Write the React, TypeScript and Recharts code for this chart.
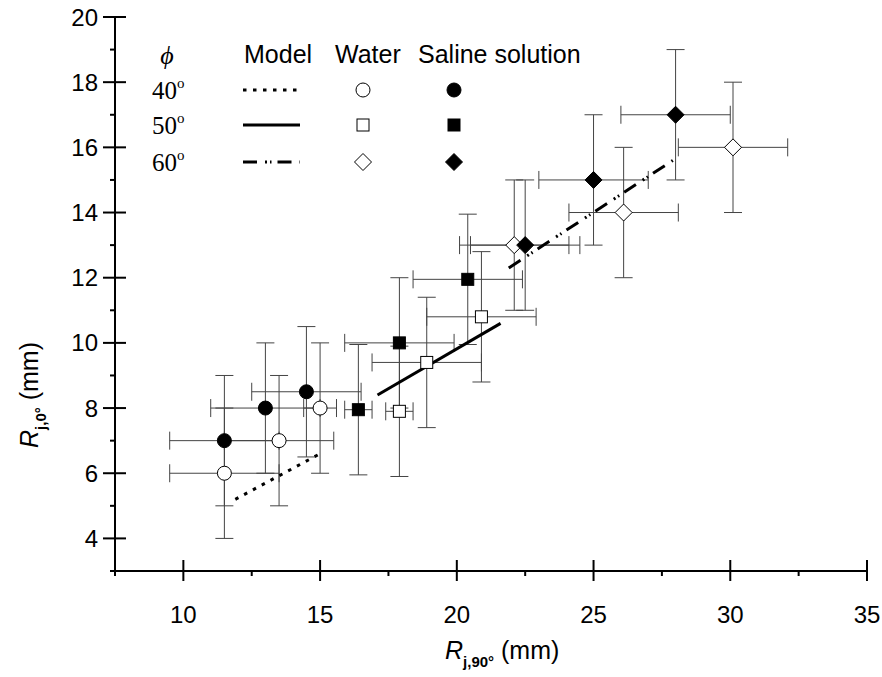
import React from 'react';
import { ErrorBar, Scatter, ScatterChart, XAxis, YAxis } from 'recharts';

// measured points: x = R_j,90°, y = R_j,0° (mm), ex/ey = error half-widths
const water40 = [
  { x: 11.5, y: 6.0, ex: 2, ey: 2 },
  { x: 13.5, y: 7.0, ex: 2, ey: 2 },
  { x: 15.0, y: 8.0, ex: 0.6, ey: 2 },
];
const saline40 = [
  { x: 11.5, y: 7.0, ex: 2, ey: 2 },
  { x: 13.0, y: 8.0, ex: 2, ey: 2 },
  { x: 14.5, y: 8.5, ex: 2, ey: 2 },
];
const water50 = [
  { x: 17.9, y: 7.9, ex: 0.5, ey: 2 },
  { x: 18.9, y: 9.4, ex: 2, ey: 2 },
  { x: 20.9, y: 10.8, ex: 2, ey: 2 },
];
const saline50 = [
  { x: 16.4, y: 7.95, ex: 0.5, ey: 2 },
  { x: 17.9, y: 10.0, ex: 2, ey: 2 },
  { x: 20.4, y: 11.95, ex: 2, ey: 2 },
];
const water60 = [
  { x: 22.1, y: 13.0, ex: 2, ey: 2 },
  { x: 26.1, y: 14.0, ex: 2, ey: 2 },
  { x: 30.1, y: 16.0, ex: 2, ey: 2 },
];
const saline60 = [
  { x: 22.5, y: 13.0, ex: 2, ey: 2 },
  { x: 25.0, y: 15.0, ex: 2, ey: 2 },
  { x: 28.0, y: 17.0, ex: 2, ey: 2 },
];

// model predictions
const model40 = [{ x: 11.9, y: 5.2 }, { x: 15.0, y: 6.6 }];
const model50 = [{ x: 17.1, y: 8.4 }, { x: 21.6, y: 10.6 }];
const model60 = [{ x: 21.9, y: 12.3 }, { x: 27.9, y: 15.6 }];

const xMajor = [10, 15, 20, 25, 30, 35];
const xMinor = [7.5, 12.5, 17.5, 22.5, 27.5, 32.5];
const yMajor = [4, 6, 8, 10, 12, 14, 16, 18, 20];
const yMinor = [3, 5, 7, 9, 11, 13, 15, 17, 19];

const legendRows = ['40', '50', '60'];

const SANS = '"Liberation Sans", Arial, sans-serif';
const SERIF = '"Liberation Serif", "Times New Roman", serif';
const BAR = '#444';

const xTicks = [...xMajor, ...xMinor].sort((a, b) => a - b);
const yTicks = [...yMajor, ...yMinor].sort((a, b) => a - b);

function BottomTick(props: any) {
  const { x, y, payload } = props;
  const major = xMajor.includes(payload.value);
  return (
    <g>
      <line x1={x} x2={x} y1={major ? y - 11 : y} y2={major ? y + 10 : y + 5} stroke="#000" strokeWidth={2} />
      {major && (
        <text x={x} y={y + 52} textAnchor="middle" fontFamily={SANS} fontSize={24} fill="#000">
          {payload.value}
        </text>
      )}
    </g>
  );
}

function LeftTick(props: any) {
  const { x, y, payload } = props;
  const major = yMajor.includes(payload.value);
  return (
    <g>
      <line y1={y} y2={y} x1={major ? x - 12 : x - 5} x2={major ? x + 11 : x} stroke="#000" strokeWidth={2} />
      {major && (
        <text x={x - 17} y={y + 8.5} textAnchor="end" fontFamily={SANS} fontSize={24} fill="#000">
          {payload.value}
        </text>
      )}
    </g>
  );
}

function TopTick(props: any) {
  const { x, y, payload } = props;
  const major = xMajor.includes(payload.value);
  return <line x1={x} x2={x} y1={y} y2={y + (major ? 10 : 5)} stroke="#000" strokeWidth={2} />;
}

function RightTick(props: any) {
  const { x, y, payload } = props;
  const major = yMajor.includes(payload.value);
  return <line y1={y} y2={y} x1={x} x2={x - (major ? 11 : 5)} stroke="#000" strokeWidth={2} />;
}

const XTitle = () => (
  <text x={445} y={659} fontFamily={SANS} fontSize={25} fill="#000">
    <tspan fontStyle="italic">R</tspan>
    <tspan fontSize={15} fontWeight="bold" dy={8}>j,90°</tspan>
    <tspan dy={-8}> (mm)</tspan>
  </text>
);

const YTitle = () => (
  <text transform="translate(38, 448) rotate(-90)" x={0} y={0} fontFamily={SANS} fontSize={25} fill="#000">
    <tspan fontStyle="italic">R</tspan>
    <tspan fontSize={15} fontWeight="bold" dy={8}>j,0°</tspan>
    <tspan dy={-8}> (mm)</tspan>
  </text>
);

const circle = (fill: string) => (p: any) =>
  <circle cx={p.cx} cy={p.cy} r={7} fill={fill} stroke="#000" strokeWidth={1} />;
const square = (fill: string) => (p: any) =>
  <rect x={p.cx - 6} y={p.cy - 6} width={12} height={12} fill={fill} stroke="#000" strokeWidth={1} />;
const diamond = (fill: string) => (p: any) =>
  <polygon
    points={`${p.cx},${p.cy - 8.5} ${p.cx + 8.5},${p.cy} ${p.cx},${p.cy + 8.5} ${p.cx - 8.5},${p.cy}`}
    fill={fill}
    stroke="#000"
    strokeWidth={1}
  />;
const noShape = () => <g />;

const lineStyles = [
  { strokeDasharray: '3.5 6.5', strokeWidth: 3 },
  { strokeDasharray: undefined, strokeWidth: 3 },
  { strokeDasharray: '14 8 2 3 1.5 6', strokeWidth: 3 },
];
const waterShapes = [circle('#fff'), square('#fff'), diamond('#fff')];
const salineShapes = [circle('#000'), square('#000'), diamond('#000')];

function LegendBox() {
  const rowsY = [90, 125, 162];
  return (
    <svg width={882} height={677} style={{ position: 'absolute', left: 0, top: 0, pointerEvents: 'none' }}>
      <text x={167} y={64} textAnchor="middle" fontFamily={SERIF} fontStyle="italic" fontSize={26}>ϕ</text>
      <text x={244} y={63} fontFamily={SANS} fontSize={25}>Model</text>
      <text x={335} y={63} fontFamily={SANS} fontSize={25}>Water</text>
      <text x={418} y={63} fontFamily={SANS} fontSize={25}>Saline solution</text>
      {legendRows.map((label, i) => {
        const cy = rowsY[i];
        const W = waterShapes[i];
        const S = salineShapes[i];
        return (
          <g key={label}>
            <text x={152} y={cy + 9} fontFamily={SERIF} fontSize={25}>
              {label}
              <tspan fontSize={15} dy={-11}>o</tspan>
            </text>
            <line x1={243} x2={300} y1={cy} y2={cy} stroke="#000" {...lineStyles[i]} />
            <W cx={363} cy={cy} />
            <S cx={454} cy={cy} />
          </g>
        );
      })}
    </svg>
  );
}

export default function App() {
  const series = [
    { water: water40, saline: saline40 },
    { water: water50, saline: saline50 },
    { water: water60, saline: saline60 },
  ];
  const models = [model40, model50, model60];
  return (
    <div style={{ position: 'absolute', left: 0, top: 0, width: 882, height: 677, background: '#fff' }}>
      <ScatterChart width={882} height={677} margin={{ top: 17, right: 15, bottom: 0, left: 0 }}>
        <XAxis
          xAxisId="b"
          dataKey="x"
          type="number"
          domain={[7.5, 35]}
          allowDataOverflow
          ticks={xTicks}
          interval={0}
          height={106}
          tickSize={0}
          tickMargin={0}
          tickLine={false}
          axisLine={{ stroke: '#000', strokeWidth: 2 }}
          tick={<BottomTick />}
          label={<XTitle />}
        />
        <XAxis
          xAxisId="t"
          orientation="top"
          type="number"
          domain={[7.5, 35]}
          allowDataOverflow
          ticks={xTicks}
          interval={0}
          height={0}
          tickSize={0}
          tickMargin={0}
          tickLine={false}
          axisLine={{ stroke: '#000', strokeWidth: 2 }}
          tick={<TopTick />}
        />
        <YAxis
          yAxisId="l"
          dataKey="y"
          type="number"
          domain={[3, 20]}
          allowDataOverflow
          ticks={yTicks}
          interval={0}
          width={115}
          tickSize={0}
          tickMargin={0}
          tickLine={false}
          axisLine={{ stroke: '#000', strokeWidth: 2 }}
          tick={<LeftTick />}
          label={<YTitle />}
        />
        <YAxis
          yAxisId="r"
          orientation="right"
          type="number"
          domain={[3, 20]}
          allowDataOverflow
          ticks={yTicks}
          interval={0}
          width={0}
          tickSize={0}
          tickMargin={0}
          tickLine={false}
          axisLine={{ stroke: '#000', strokeWidth: 2 }}
          tick={<RightTick />}
        />
        {models.map((m, i) => (
          <Scatter
            key={`m${i}`}
            xAxisId="b"
            yAxisId="l"
            data={m}
            line={{ stroke: '#000', ...lineStyles[i] }}
            lineType="joint"
            shape={noShape}
            isAnimationActive={false}
          />
        ))}
        {series.map((s, i) => (
          <Scatter
            key={`w${i}`}
            xAxisId="b"
            yAxisId="l"
            data={s.water}
            shape={waterShapes[i]}
            isAnimationActive={false}
          >
            <ErrorBar dataKey="ex" direction="x" width={9} stroke={BAR} strokeWidth={1} />
            <ErrorBar dataKey="ey" direction="y" width={9} stroke={BAR} strokeWidth={1} />
          </Scatter>
        ))}
        {series.map((s, i) => (
          <Scatter
            key={`s${i}`}
            xAxisId="b"
            yAxisId="l"
            data={s.saline}
            shape={salineShapes[i]}
            isAnimationActive={false}
          >
            <ErrorBar dataKey="ex" direction="x" width={9} stroke={BAR} strokeWidth={1} />
            <ErrorBar dataKey="ey" direction="y" width={9} stroke={BAR} strokeWidth={1} />
          </Scatter>
        ))}
      </ScatterChart>
      <LegendBox />
    </div>
  );
}
